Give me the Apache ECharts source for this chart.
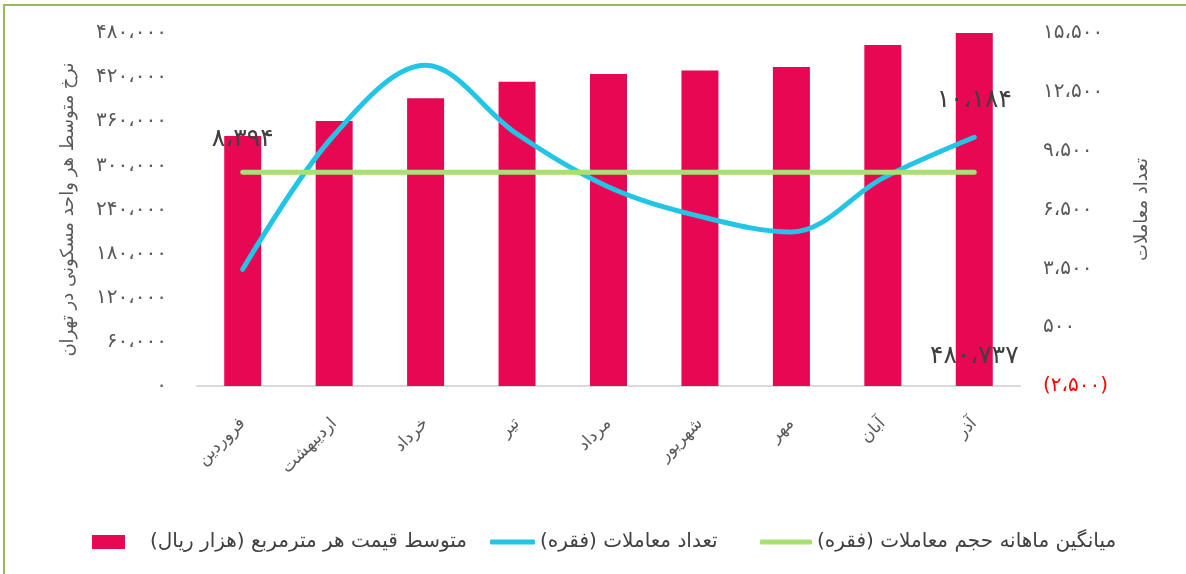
<!DOCTYPE html>
<html>
<head>
<meta charset="utf-8">
<script src="https://cdn.jsdelivr.net/npm/echarts@6/dist/echarts.min.js"></script>
<style>
  html, body { margin: 0; padding: 0; background: #fff; }
  #chart { width: 1186px; height: 574px; }
</style>
</head>
<body>
<div id="chart"></div>
<script>
// months (Persian calendar)
const months = ["فروردین", "اردیبهشت", "خرداد", "تیر", "مرداد", "شهریور", "مهر", "آبان", "آذر"];

// average price per m2 (thousand rials) - left axis
const avgPrice = [340000, 360500, 391300, 413800, 424300, 429000, 433800, 463700, 480737];

// number of transactions - right axis
const dealCount = [3450, 10300, 13850, 10350, 7650, 6150, 5350, 8100, 10184];

// monthly average of transaction volume
const avgDeals = [8394, 8394, 8394, 8394, 8394, 8394, 8394, 8394, 8394];

const seriesNames = [
  "متوسط قیمت هر مترمربع (هزار ریال)",
  "تعداد معاملات (فقره)",
  "میانگین ماهانه حجم معاملات (فقره)"
];

const FONT = "DejaVu Sans";
const GRAY = "#595959";
const RED = "#E80752";
const BLUE = "#22C5E5";
const GREEN = "#A9E070";

// persian digits, arabic comma, negatives in brackets
const fa = (n) => {
  const s = Math.abs(Math.round(n)).toLocaleString("en-US")
    .replace(/,/g, "،")
    .replace(/\d/g, (d) => "۰۱۲۳۴۵۶۷۸۹"[d]);
  return n < 0 ? "(" + s + ")" : s;
};

const chart = echarts.init(document.getElementById("chart"));

const legendText = { fontFamily: FONT, fontSize: 20, color: "#404040" };

const option = {
  animation: false,
  graphic: [
    {
      type: "rect",
      shape: { x: 4, y: 5, width: 1300, height: 700 },
      style: { fill: "none", stroke: "#9BBB59", lineWidth: 2 },
      silent: true
    }
  ],
  legend: [
    {
      left: 92, top: 532, padding: 0,
      icon: "rect", itemWidth: 33, itemHeight: 14,
      textStyle: Object.assign({ padding: [0, 0, 0, 20] }, legendText),
      data: [seriesNames[0]]
    },
    {
      left: 490, top: 532, padding: 0,
      icon: "roundRect", itemWidth: 45, itemHeight: 5,
      textStyle: legendText,
      data: [seriesNames[1]]
    },
    {
      left: 760, top: 532, padding: 0,
      icon: "roundRect", itemWidth: 52, itemHeight: 5,
      textStyle: legendText,
      data: [seriesNames[2]]
    }
  ],
  grid: { left: 197, right: 166, top: 33, bottom: 188 },
  xAxis: {
    type: "category",
    data: months,
    axisLine: { lineStyle: { color: "#D9D9D9", width: 2 } },
    axisTick: { show: false },
    axisLabel: {
      rotate: 45,
      margin: 35,
      color: GRAY,
      fontFamily: FONT,
      fontSize: 17
    }
  },
  yAxis: [
    {
      type: "value",
      min: 0,
      max: 480000,
      interval: 60000,
      name: "نرخ متوسط هر واحد مسکونی در تهران",
      nameLocation: "middle",
      nameRotate: 90,
      nameGap: 120,
      nameTextStyle: { color: GRAY, fontFamily: FONT, fontSize: 18 },
      axisLine: { show: false },
      axisTick: { show: false },
      splitLine: { show: false },
      axisLabel: {
        margin: 30,
        color: GRAY,
        fontFamily: FONT,
        fontSize: 20,
        formatter: (v) => fa(v)
      }
    },
    {
      type: "value",
      min: -2500,
      max: 15500,
      interval: 3000,
      position: "right",
      name: "تعداد معاملات",
      nameLocation: "middle",
      nameRotate: 90,
      nameGap: 113,
      nameTextStyle: { color: GRAY, fontFamily: FONT, fontSize: 18 },
      axisLine: { show: false },
      axisTick: { show: false },
      splitLine: { show: false },
      axisLabel: {
        margin: 23,
        fontFamily: FONT,
        fontSize: 20,
        color: (v) => (Number(v) < 0 ? "#FF0000" : GRAY),
        formatter: (v) => fa(v)
      }
    }
  ],
  series: [
    {
      name: seriesNames[0],
      type: "bar",
      yAxisIndex: 0,
      barWidth: 37,
      itemStyle: { color: RED },
      label: {
        show: true,
        position: "insideBottom",
        distance: 17,
        color: "#404040",
        fontFamily: FONT,
        fontSize: 25,
        formatter: (p) => (p.dataIndex === avgPrice.length - 1 ? fa(p.value) : "")
      },
      data: avgPrice
    },
    {
      name: seriesNames[1],
      type: "line",
      yAxisIndex: 1,
      smooth: 0.35,
      symbol: "circle",
      symbolSize: 0,
      showSymbol: true,
      lineStyle: { color: BLUE, width: 5, cap: "round" },
      itemStyle: { color: BLUE },
      label: {
        show: true,
        position: "top",
        distance: 24,
        color: "#404040",
        fontFamily: FONT,
        fontSize: 25,
        formatter: (p) => (p.dataIndex === dealCount.length - 1 ? fa(p.value) : "")
      },
      data: dealCount
    },
    {
      name: seriesNames[2],
      type: "line",
      yAxisIndex: 1,
      symbol: "circle",
      symbolSize: 0,
      showSymbol: true,
      lineStyle: { color: GREEN, width: 5, cap: "round" },
      itemStyle: { color: GREEN },
      label: {
        show: true,
        position: "top",
        distance: 20,
        color: "#404040",
        fontFamily: FONT,
        fontSize: 25,
        formatter: (p) => (p.dataIndex === 0 ? fa(p.value) : "")
      },
      data: avgDeals
    }
  ]
};

chart.setOption(option);
</script>
</body>
</html>
